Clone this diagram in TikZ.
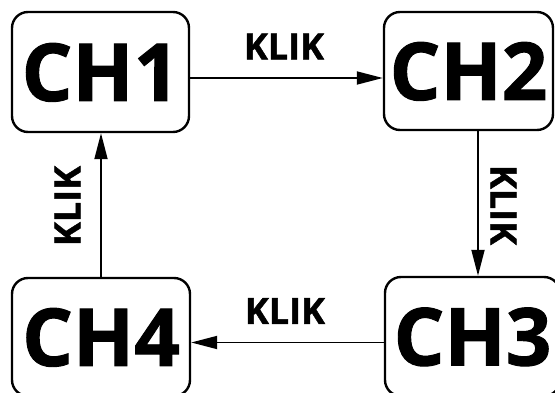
\documentclass[tikz,border=0pt]{standalone}
\usepackage{fontspec}
\usepackage{tikz}
\newfontfamily\chfont{Open Sans}[BoldFeatures={FakeBold=1.2}]
\usetikzlibrary{arrows.meta}

\begin{document}
\begin{tikzpicture}
                [x=1pt, y=-1pt,
                    chbox/.style={draw, line width=2.4pt, rounded corners=16pt, inner sep=0pt,
                        text depth=0pt, font=\chfont\bfseries\fontsize{80}{80}\selectfont},
                    klik/.style={font=\chfont\bfseries\fontsize{36}{36}\selectfont, inner sep=0pt},
                    pijl/.style={line width=1.8pt, -{Triangle[length=26pt,width=13pt]}},
                ]
                \useasboundingbox (0,0) rectangle (555,393);
                % de vier kanalen
                \node[chbox, minimum width=177pt, minimum height=120pt] (ch1) at (100.5,72) {CH1};
                \node[chbox, minimum width=169pt, minimum height=118pt] (ch2) at (468.5,71) {CH2};
                \node[chbox, minimum width=175pt, minimum height=119pt] (ch3) at (472.5,336.5) {CH3};
                \node[chbox, minimum width=178pt, minimum height=118pt] (ch4) at (101,337) {CH4};
                % pijlen met KLIK
                \draw[pijl] ([yshift=-6pt]ch1.east) -- ([yshift=-6pt]ch1.east -| ch2.west);
                \node[klik] (klik12) at (284,46.5) {KLIK};
                \draw[pijl] ([xshift=9.5pt]ch2.south) -- ([xshift=9.5pt]ch2.south |- ch3.north);
                \node[klik, rotate=-90] (klik23) at (503.5,205) {KLIK};
                \draw[pijl] ([yshift=-6pt]ch3.west) -- ([yshift=-6pt]ch3.west -| ch4.east);
                \node[klik] (klik34) at (285,311) {KLIK};
                \draw[pijl] (ch4.north) -- (ch4.north |- ch1.south);
                \node[klik, rotate=90] (klik41) at (67.5,206) {KLIK};
            \end{tikzpicture}
\end{document}
